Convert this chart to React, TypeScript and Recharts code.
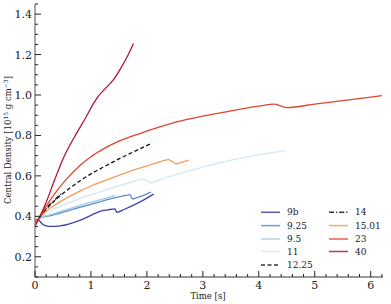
import React from "react";
import { LineChart, Line, XAxis, YAxis, Legend } from "recharts";

// ---- data (time [s], central density [1e15 g/cm^3]) ----
const time9b = [0, 0.05, 0.12, 0.2, 0.3, 0.45, 0.6, 0.8, 1.0, 1.16, 1.3, 1.43, 1.46, 1.6, 1.8, 2.0, 2.12];
const dens9b = [0.38, 0.385, 0.365, 0.353, 0.35, 0.353, 0.362, 0.38, 0.405, 0.425, 0.432, 0.437, 0.42, 0.435, 0.46, 0.49, 0.51];

const time925 = [0, 0.07, 0.3, 0.6, 0.9, 1.16, 1.4, 1.6, 1.7, 1.74, 1.8, 1.95, 2.07];
const dens925 = [0.37, 0.39, 0.405, 0.428, 0.452, 0.472, 0.49, 0.502, 0.507, 0.486, 0.49, 0.505, 0.52];

const time95 = [0, 0.07, 0.3, 0.6, 0.9, 1.16, 1.43];
const dens95 = [0.37, 0.39, 0.41, 0.437, 0.462, 0.481, 0.504];

const time11 = [0, 0.07, 0.2, 0.5, 0.8, 1.0, 1.2, 1.5, 1.7, 1.94, 2.0, 2.06, 2.3, 2.7, 3.0, 3.3, 3.6, 4.0, 4.48];
const dens11 = [0.37, 0.39, 0.415, 0.455, 0.488, 0.507, 0.525, 0.552, 0.568, 0.584, 0.575, 0.566, 0.588, 0.62, 0.643, 0.665, 0.683, 0.705, 0.725];

const time1225 = [0, 0.07, 0.2, 0.4, 0.6, 0.8, 1.0, 1.2, 1.5, 1.8, 2.06];
const dens1225 = [0.37, 0.39, 0.435, 0.49, 0.535, 0.575, 0.61, 0.64, 0.684, 0.724, 0.758];

const time14 = [0, 0.07, 0.2, 0.35, 0.48];
const dens14 = [0.37, 0.39, 0.44, 0.48, 0.515];

const time1501 = [0, 0.07, 0.2, 0.5, 0.8, 1.0, 1.2, 1.5, 1.8, 2.0, 2.2, 2.38, 2.45, 2.52, 2.6, 2.75];
const dens1501 = [0.37, 0.39, 0.425, 0.48, 0.525, 0.55, 0.572, 0.603, 0.632, 0.65, 0.667, 0.68, 0.672, 0.66, 0.665, 0.678];

const time23 = [0, 0.07, 0.2, 0.4, 0.6, 0.8, 1.0, 1.2, 1.5, 1.9, 2.3, 2.7, 3.0, 3.5, 4.0, 4.28, 4.5, 5.0, 5.5, 6.0, 6.2];
const dens23 = [0.36, 0.39, 0.45, 0.53, 0.595, 0.65, 0.695, 0.73, 0.772, 0.812, 0.848, 0.878, 0.895, 0.922, 0.945, 0.955, 0.938, 0.955, 0.972, 0.99, 0.997];

const time40 = [0, 0.07, 0.2, 0.35, 0.51, 0.7, 0.9, 1.05, 1.12, 1.25, 1.4, 1.55, 1.65, 1.76];
const dens40 = [0.35, 0.39, 0.47, 0.58, 0.69, 0.79, 0.885, 0.96, 0.99, 1.03, 1.075, 1.14, 1.19, 1.255];

const seriesNames = ["9b", "9.25", "9.5", "11", "12.25", "14", "15.01", "23", "40"];
const seriesColors = ["#3b44a6", "#5b8cc8", "#9ccae1", "#d2e8f3", "#111111", "#111111", "#f89a5c", "#e3432f", "#b3153c"];
const seriesDash = ["", "", "", "", "4 2.5", "5 2 1.2 2", "", "", ""];

const xMajorTicks = [0, 1, 2, 3, 4, 5, 6];
const yMajorTicks = [0.2, 0.4, 0.6, 0.8, 1.0, 1.2, 1.4];

const X_DOMAIN: [number, number] = [0, 6.22];
const Y_DOMAIN: [number, number] = [0.1, 1.45];

const xMinor = Array.from({ length: 32 }, (_, i) => +(i * 0.2).toFixed(1));
const yMinor = Array.from({ length: 28 }, (_, i) => +(0.1 + i * 0.05).toFixed(2));

const zip = (t: number[], d: number[]) => t.map((x, i) => ({ t: x, rho: d[i] }));
const seriesData = [
  zip(time9b, dens9b),
  zip(time925, dens925),
  zip(time95, dens95),
  zip(time11, dens11),
  zip(time1225, dens1225),
  zip(time14, dens14),
  zip(time1501, dens1501),
  zip(time23, dens23),
  zip(time40, dens40),
];

const FONT = "DejaVu Serif";
const isMajor = (v: number, majors: number[]) => majors.some((m) => Math.abs(m - v) < 1e-6);

const BottomTick = (p: any) => {
  const v = p.payload.value;
  const maj = isMajor(v, xMajorTicks);
  return (
    <g>
      <line x1={p.x} x2={p.x} y1={p.y} y2={p.y - (maj ? 6 : 3)} stroke="#222" strokeWidth={1} />
      {maj && (
        <text x={p.x} y={p.y + 12} textAnchor="middle" fontFamily={FONT} fontSize={11} fill="#222">
          {v}
        </text>
      )}
    </g>
  );
};
const TopTick = (p: any) => {
  const v = p.payload.value;
  const maj = isMajor(v, xMajorTicks);
  return <line x1={p.x} x2={p.x} y1={p.y} y2={p.y + (maj ? 6 : 3)} stroke="#222" strokeWidth={1} />;
};
const LeftTick = (p: any) => {
  const v = p.payload.value;
  const maj = isMajor(v, yMajorTicks);
  return (
    <g>
      <line x1={p.x} x2={p.x + (maj ? 6 : 3)} y1={p.y} y2={p.y} stroke="#222" strokeWidth={1} />
      {maj && (
        <text x={p.x - 3} y={p.y} dy="0.36em" textAnchor="end" fontFamily={FONT} fontSize={11} fill="#222">
          {v.toFixed(1)}
        </text>
      )}
    </g>
  );
};
const RightTick = (p: any) => {
  const v = p.payload.value;
  const maj = isMajor(v, yMajorTicks);
  return <line x1={p.x} x2={p.x - (maj ? 6 : 3)} y1={p.y} y2={p.y} stroke="#222" strokeWidth={1} />;
};

const XLabel = () => (
  <text x={208} y={299} textAnchor="middle" fontFamily={FONT} fontSize={8.5} fill="#222">
    Time [s]
  </text>
);
const YLabel = () => (
  <text x={11} y={140} transform="rotate(-90 11 140)" textAnchor="middle" fontFamily={FONT} fontSize={8.5} fill="#222">
    Central Density [10
    <tspan fontSize={6} dy={-3.5}>15</tspan>
    <tspan dy={3.5}> g cm</tspan>
    <tspan fontSize={6} dy={-3.5}>−3</tspan>
    <tspan dy={3.5}>]</tspan>
  </text>
);

const LegendBox = () => {
  const rows = [9.3, 22.6, 36, 48.5, 62];
  const col1 = [0, 1, 2, 3, 4];
  const col2 = [5, 6, 7, 8];
  const entry = (idx: number, row: number, lx: number) => (
    <g key={idx}>
      <line
        x1={lx}
        x2={lx + 19}
        y1={rows[row]}
        y2={rows[row]}
        stroke={seriesColors[idx]}
        strokeOpacity={0.85}
        strokeWidth={1.5}
        strokeDasharray={seriesDash[idx] || undefined}
      />
      <text x={lx + 26} y={rows[row]} dy="0.35em" fontFamily={FONT} fontSize={9} fill="#222">
        {seriesNames[idx]}
      </text>
    </g>
  );
  return (
    <svg width={135} height={72} style={{ display: "block" }}>
      {col1.map((idx, r) => entry(idx, r, 6))}
      {col2.map((idx, r) => entry(idx, r, 74))}
    </svg>
  );
};

export default function App() {
  return (
    <div style={{ position: "absolute", left: 0, top: 0, width: 391, height: 304, background: "#fff" }}>
      <LineChart width={391} height={304} margin={{ top: 4, right: 8, bottom: 0, left: 0 }}>
        <XAxis
          xAxisId="b"
          type="number"
          dataKey="t"
          domain={X_DOMAIN}
          allowDataOverflow
          ticks={xMinor}
          interval={0}
          height={27}
          tickSize={0}
          tickMargin={0}
          tickLine={false}
          tick={<BottomTick />}
          axisLine={{ stroke: "#777", strokeWidth: 1.3 }}
          label={<XLabel />}
        />
        <XAxis
          xAxisId="t"
          orientation="top"
          type="number"
          dataKey="t"
          domain={X_DOMAIN}
          allowDataOverflow
          ticks={xMinor}
          interval={0}
          height={0}
          tickSize={0}
          tickMargin={0}
          tickLine={false}
          tick={<TopTick />}
          axisLine={{ stroke: "#777", strokeWidth: 1.3 }}
        />
        <YAxis
          yAxisId="l"
          type="number"
          dataKey="rho"
          domain={Y_DOMAIN}
          allowDataOverflow
          ticks={yMinor}
          interval={0}
          width={35}
          tickSize={0}
          tickMargin={0}
          tickLine={false}
          tick={<LeftTick />}
          axisLine={{ stroke: "#777", strokeWidth: 1.3 }}
          label={<YLabel />}
        />
        <YAxis
          yAxisId="r"
          orientation="right"
          type="number"
          dataKey="rho"
          domain={Y_DOMAIN}
          allowDataOverflow
          ticks={yMinor}
          interval={0}
          width={0}
          tickSize={0}
          tickMargin={0}
          tickLine={false}
          tick={<RightTick />}
          axisLine={{ stroke: "#777", strokeWidth: 1.3 }}
        />
        {seriesData.map((d, i) => (
          <Line
            key={seriesNames[i]}
            xAxisId="b"
            yAxisId="l"
            data={d}
            dataKey="rho"
            name={seriesNames[i]}
            type="monotone"
            stroke={seriesColors[i]}
            strokeWidth={1.3}
            strokeDasharray={seriesDash[i] || undefined}
            dot={false}
            activeDot={false}
            isAnimationActive={false}
          />
        ))}
        <Legend
          layout="horizontal"
          verticalAlign="middle"
          align="center"
          content={<LegendBox />}
          wrapperStyle={{ position: "absolute", left: 255, top: 203, width: 135, height: 72 }}
        />
      </LineChart>
    </div>
  );
}
